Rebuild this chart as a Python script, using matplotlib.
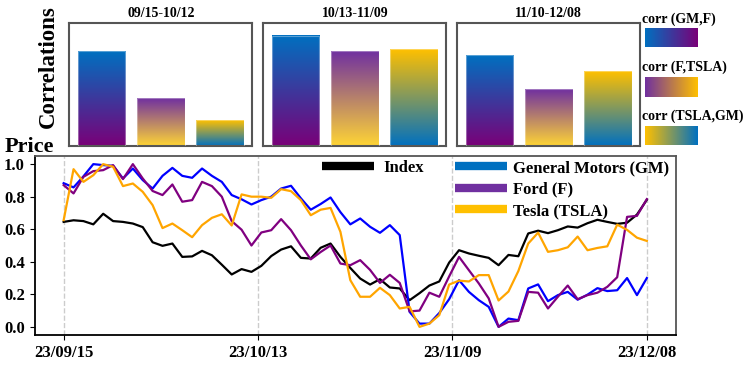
import numpy as np
import matplotlib
matplotlib.use('Agg')
import matplotlib.pyplot as plt
from matplotlib.lines import Line2D
from matplotlib.colors import to_rgb

plt.rcParams['font.family'] = ['Liberation Serif', 'DejaVu Serif']
plt.rcParams['font.weight'] = 'bold'

# ---------------- data ----------------
tick_labels = ['23/09/15', '23/10/13', '23/11/09', '23/12/08']

index_vals = [0.645, 0.655, 0.65, 0.63, 0.695, 0.65, 0.645, 0.635, 0.613, 0.52,
              0.498, 0.512, 0.43, 0.433, 0.467, 0.44, 0.382, 0.322, 0.355, 0.338,
              0.375, 0.435, 0.475, 0.495, 0.424, 0.42, 0.486, 0.512, 0.43, 0.362,
              0.297, 0.26, 0.293, 0.242, 0.236, 0.164, 0.207, 0.254, 0.279, 0.395,
              0.471, 0.451, 0.437, 0.424, 0.379, 0.442, 0.434, 0.574, 0.591, 0.576,
              0.594, 0.617, 0.61, 0.637, 0.658, 0.645, 0.633, 0.64, 0.69, 0.781]

gm_vals = [0.883, 0.857, 0.925, 1.0, 0.994, 0.99, 0.912, 0.973, 0.902, 0.85,
           0.928, 0.977, 0.928, 0.916, 0.973, 0.928, 0.891, 0.81, 0.784, 0.752,
           0.779, 0.80, 0.85, 0.867, 0.79, 0.72, 0.755, 0.795, 0.705, 0.63,
           0.666, 0.615, 0.578, 0.625, 0.564, 0.092, 0.02, 0.02, 0.085, 0.17,
           0.287, 0.215, 0.164, 0.123, 0.0, 0.051, 0.041, 0.236, 0.261, 0.158,
           0.195, 0.215, 0.167, 0.198, 0.238, 0.22, 0.225, 0.30, 0.195, 0.30]

ford_vals = [0.871, 0.82, 0.922, 0.957, 0.963, 0.994, 0.908, 1.0, 0.912, 0.835,
             0.81, 0.875, 0.769, 0.779, 0.891, 0.865, 0.80, 0.65, 0.597, 0.50,
             0.58, 0.594, 0.662, 0.594, 0.50, 0.415, 0.46, 0.50, 0.389, 0.379,
             0.41, 0.35, 0.27, 0.32, 0.27, 0.095, 0.10, 0.21, 0.185, 0.31,
             0.43, 0.348, 0.267, 0.175, 0.0, 0.031, 0.037, 0.215, 0.21, 0.113,
             0.185, 0.254, 0.17, 0.195, 0.21, 0.246, 0.305, 0.676, 0.682, 0.785]

tesla_vals = [0.656, 0.969, 0.891, 0.932, 1.0, 0.984, 0.865, 0.881, 0.83, 0.748,
              0.607, 0.635, 0.594, 0.551, 0.625, 0.67, 0.692, 0.623, 0.814, 0.80,
              0.80, 0.793, 0.846, 0.834, 0.779, 0.686, 0.72, 0.731, 0.584, 0.287,
              0.185, 0.185, 0.24, 0.195, 0.113, 0.123, 0.0, 0.02, 0.072, 0.26,
              0.284, 0.279, 0.318, 0.318, 0.162, 0.217, 0.343, 0.512, 0.579, 0.461,
              0.471, 0.489, 0.555, 0.471, 0.485, 0.495, 0.628, 0.596, 0.548, 0.528]

series_labels = ['General Motors (GM)', 'Ford (F)', 'Tesla (TSLA)']

periods = ['09/15-10/12', '10/13-11/09', '11/10-12/08']
corr_gm_f = [0.77, 0.90, 0.74]
corr_f_tsla = [0.39, 0.77, 0.46]
corr_tsla_gm = [0.21, 0.79, 0.61]
corr_labels = ['corr (GM,F)', 'corr (F,TSLA)', 'corr (TSLA,GM)']

# ---------------- style ----------------
BLUE = '#0070C0'
PURPLE = '#7030A0'
DEEP_PURPLE = '#7A0078'
YELLOW = '#FFC000'
LIGHT_YELLOW = '#FFD535'
grad_bar_colors = [(BLUE, DEEP_PURPLE), (PURPLE, LIGHT_YELLOW), (YELLOW, BLUE)]
grad_leg_colors = [(BLUE, DEEP_PURPLE), (PURPLE, YELLOW), (YELLOW, BLUE)]
line_colors = ['#0000FF', '#800080', '#FFA500']
leg_colors = [BLUE, PURPLE, YELLOW]

W, H = 748, 368
fig = plt.figure(figsize=(W / 100, H / 100), dpi=100)


def fx(px):
    return px / W


def fy(py):
    return 1 - py / H


def gradient(c1, c2, n=256):
    t = np.linspace(0, 1, n)
    a = np.array(to_rgb(c1))
    b = np.array(to_rgb(c2))
    return (1 - t)[:, None] * a + t[:, None] * b


# ---------------- correlation panels ----------------
panel_lefts = [69.3, 263.3, 457.3]
panel_w = 183.0
panel_top, panel_bot = 23.3, 145.7
corr_sets = [corr_gm_f, corr_f_tsla, corr_tsla_gm]
for p, left in enumerate(panel_lefts):
    ax = fig.add_axes([fx(left), fy(panel_bot), fx(panel_w), (panel_bot - panel_top) / H])
    vals = [corr_sets[k][p] for k in range(3)]
    for k, v in enumerate(vals):
        c_top, c_bot = grad_bar_colors[k]
        img = gradient(c_top, c_bot)[:, None, :]
        ax.imshow(img, extent=(k - 0.4, k + 0.4, 0, v), aspect='auto',
                  origin='upper', zorder=2, interpolation='bilinear')
        ax.bar(k, v, width=0.8, color='none', edgecolor=(1, 1, 1, 0.35),
               linewidth=0.8, zorder=3)
    ax.set_xlim(-0.54, 2.54)
    ax.set_ylim(0, 1)
    ax.set_xticks([])
    ax.set_yticks([])
    for s in ax.spines.values():
        s.set_color('#555555')
        s.set_linewidth(1.5)
    fig.text(fx(left + panel_w / 2), fy(13.5), periods[p], ha='center', va='center',
             fontsize=10, fontweight='bold')

fig.text(fx(48), fy(67), 'Correlations', rotation=90, ha='center', va='center',
         fontsize=16.5, fontweight='bold')

# legend colour strips
strip_tops = [28, 77.3, 126]
label_ys = [19.5, 67, 116]
for k in range(3):
    lax = fig.add_axes([fx(645), fy(strip_tops[k] + 19.5), fx(52.7), 19.5 / H])
    c1, c2 = grad_leg_colors[k]
    lax.imshow(gradient(c1, c2)[None, :, :], aspect='auto', interpolation='bilinear')
    lax.axis('off')
    fig.text(fx(642.5), fy(label_ys[k]), corr_labels[k], ha='left', va='center',
             fontsize=10, fontweight='bold')

# ---------------- price chart ----------------
ax = fig.add_axes([fx(34.5), fy(335), fx(676 - 34.5), (335 - 156) / H])
x = np.arange(len(index_vals))
tick_pos = np.linspace(0, len(x) - 1, len(tick_labels))
for tp in tick_pos:
    ax.axvline(tp, color='#cccccc', ls='--', lw=1.0, zorder=0)
ax.plot(x, index_vals, color='black', lw=1.6, zorder=3)
ax.plot(x, gm_vals, color=line_colors[0], lw=1.6, zorder=3)
ax.plot(x, ford_vals, color=line_colors[1], lw=1.6, zorder=3)
ax.plot(x, tesla_vals, color=line_colors[2], lw=1.6, zorder=3)
ax.set_xticks(tick_pos)
ax.set_xticklabels(tick_labels)
ax.set_yticks([0.0, 0.2, 0.4, 0.6, 0.8, 1.0])
ax.set_yticklabels(['0.0', '0.2', '0.4', '0.6', '0.8', '1.0'])
ax.tick_params(labelsize=12, length=3.5)
for lab in ax.get_xticklabels() + ax.get_yticklabels():
    lab.set_fontweight('bold')
ax.spines['left'].set_color('black')
ax.spines['bottom'].set_color('black')
ax.spines['top'].set_color('#555555')
ax.spines['right'].set_color('#555555')
for s in ax.spines.values():
    s.set_linewidth(1.3)

fig.text(fx(5), fy(152), 'Price', ha='left', va='baseline', fontsize=16, fontweight='bold')

h1 = [Line2D([], [], color='black', lw=6, solid_capstyle='butt')]
leg1 = ax.legend(h1, ['Index'], loc='upper left', bbox_to_anchor=(fx(322), fy(160)),
                 bbox_transform=fig.transFigure, frameon=False,
                 handlelength=3.1, handletextpad=0.6, borderpad=0, borderaxespad=0,
                 prop={'weight': 'bold', 'size': 12})
ax.add_artist(leg1)
h2 = [Line2D([], [], color=c, lw=6, solid_capstyle='butt') for c in leg_colors]
ax.legend(h2, series_labels, loc='upper left', bbox_to_anchor=(fx(455), fy(160)),
          bbox_transform=fig.transFigure, frameon=False,
          handlelength=3.1, handletextpad=0.4, borderpad=0, borderaxespad=0,
          labelspacing=0.33, prop={'weight': 'bold', 'size': 12})

fig.savefig('out.png', dpi=100)
